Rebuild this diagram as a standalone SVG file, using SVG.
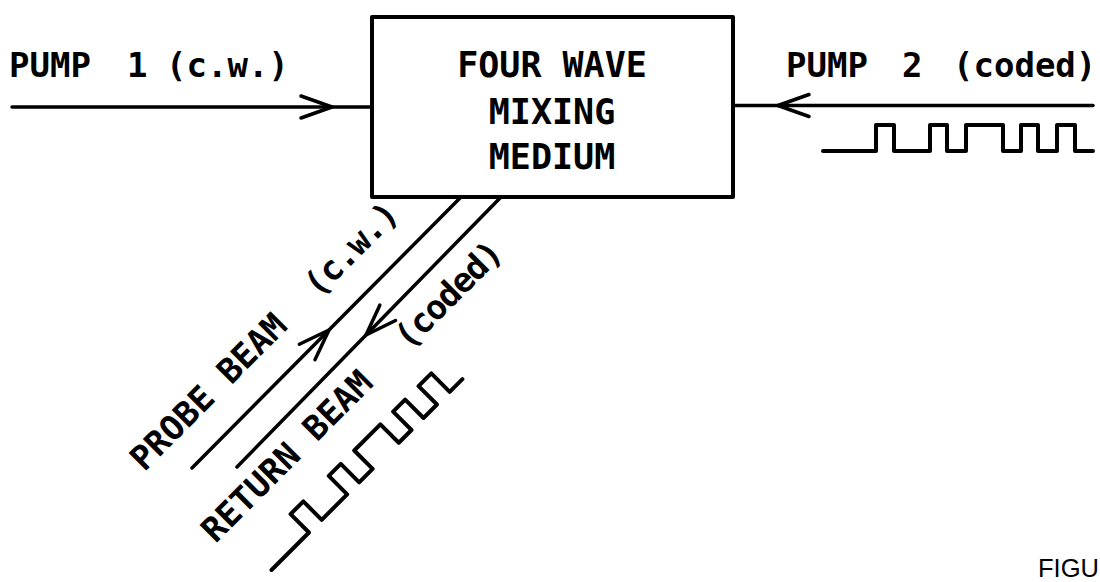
<svg xmlns="http://www.w3.org/2000/svg" width="1100" height="582" viewBox="0 0 1100 582">
<defs>
<style>
.ln{fill:none;stroke:#000;stroke-width:3.5;stroke-linecap:round;stroke-linejoin:round}
.bx{fill:#fff;stroke:#000;stroke-width:4;stroke-linejoin:round}
.wv{fill:none;stroke:#000;stroke-width:4;stroke-linecap:round;stroke-linejoin:round}
.lbl{font-family:"DejaVu Sans Mono","Liberation Mono",monospace;font-weight:bold;font-size:34px;fill:#000}
.bt{font-size:35px;text-anchor:middle}
.tight{letter-spacing:-1.2px}
.fig{font-family:"Liberation Sans",Arial,sans-serif;font-size:25.5px;fill:#000}
</style>
<marker id="chev" markerUnits="userSpaceOnUse" viewBox="-34 -16 38 32" refX="0" refY="0" markerWidth="38" markerHeight="32" orient="auto" overflow="visible">
<path d="M-31,-11 L0,0 L-31,11" fill="none" stroke="#000" stroke-width="3.5" stroke-linecap="round" stroke-linejoin="round"/>
</marker>
<path id="code" d="M0,0 H53 V-26 H71 V0 H107 V-26 H124 V0 H143 V-26 H180 V0 H198 V-26 H215 V0 H234 V-26 H252 V0 H270"/>
</defs>
<rect width="1100" height="582" fill="#fff"/>

<g id="connectors" class="ln">
<polyline id="pump1" points="12,107 332,107 372,107" marker-mid="url(#chev)"/>
<polyline id="pump2" points="1093,105.5 778,105.5 733,105.5" marker-mid="url(#chev)"/>
<polyline id="probe" points="192,468 329,330 461,197" marker-mid="url(#chev)"/>
<polyline id="return" points="501,197 366,335 237,467" marker-mid="url(#chev)"/>
</g>

<g id="mixing-medium">
<rect class="bx" x="372" y="17" width="361" height="180"/>
<text class="lbl bt" x="552" y="77">FOUR WAVE</text>
<text class="lbl bt" x="552" y="124">MIXING</text>
<text class="lbl bt" x="552" y="169">MEDIUM</text>
</g>

<g id="pump1-label">
<text class="lbl" y="77"><tspan x="9">PUMP</tspan><tspan x="127">1</tspan><tspan x="166">(c.w.)</tspan></text>
</g>

<g id="pump2-label">
<text class="lbl" y="77"><tspan x="786">PUMP</tspan><tspan x="902">2</tspan><tspan x="953">(coded)</tspan></text>
<use href="#code" class="wv" transform="translate(823,151)"/>
</g>

<g id="probe-label">
<text class="lbl" transform="translate(144.3,472.4) rotate(-45)"><tspan x="0">PROBE BEAM</tspan><tspan x="246" class="tight">(c.w.)</tspan></text>
</g>

<g id="return-label">
<text class="lbl" transform="translate(215.6,543.9) rotate(-45)"><tspan x="0">RETURN BEAM</tspan><tspan x="273" class="tight">(coded)</tspan></text>
<use href="#code" class="wv" transform="translate(271.5,570) rotate(-45)"/>
</g>

<g id="figure-caption">
<text class="fig" x="1038" y="577">FIGU</text>
</g>
</svg>
